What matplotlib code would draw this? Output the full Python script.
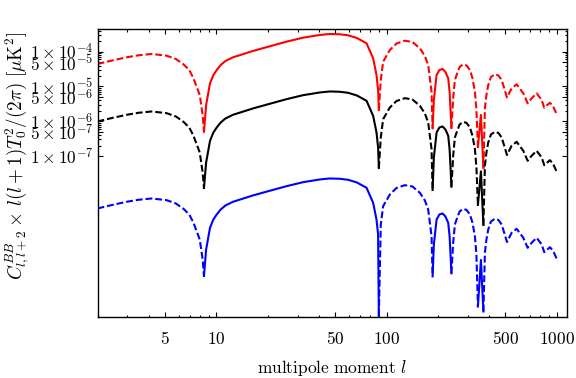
import numpy as np
import matplotlib
matplotlib.use("Agg")
import matplotlib.pyplot as plt
from matplotlib.ticker import FixedLocator, FixedFormatter, NullFormatter

plt.rcParams['mathtext.fontset'] = 'cm'
plt.rcParams['font.family'] = ['DejaVu Serif']

# multipole moments (shared sampling)
ell = [2.0, 2.45, 2.97, 3.49, 4.16, 5.10, 5.78, 6.40, 6.92, 7.32, 7.98, 8.30, 8.45,
       8.70, 9.17, 9.6, 10.04, 10.6, 11.3, 12.52, 13.71, 16.42, 20.58, 25.8, 32.3, 40.5, 46.4, 53.1,
       59.4, 66.9, 76.3, 83.4, 87.3, 89.2, 90.1,
       92.5, 95.5, 104.6, 114.5, 128.1, 141.9, 157.0, 168.0, 175.7, 183.9, 186.5,
       189.7, 196.9, 204.5, 213.5, 221.8, 230.4, 234.8, 238.0, 240.6,
       246.5, 252.2, 258.1, 268.8, 282.2, 295.6, 309.0, 319.7, 330.7, 337.5, 344.4,
       358.7, 371.0,
       378.6, 386.5, 396.0, 410.8, 433.6, 454.7, 474.9, 493.1, 510.2, 543.7, 581.8,
       636.3, 675.2, 712.7, 762.6, 816.1, 845.4, 913.0, 955.0, 1000.0]

# sign of the spectrum: +1 positive (solid), -1 negative (dashed), 0 zero crossing
sign = ([-1]*12 + [0] + [1]*21 + [0] + [-1]*10 + [0] + [1]*8 + [0] + [-1]*10 + [0]
        + [1] + [0] + [-1]*20)

# log10 |C| for the three series
red_log10 = [-4.353, -4.250, -4.161, -4.103, -4.066, -4.115, -4.210, -4.362, -4.526, -4.756, -5.244, -5.819, -6.299,
             -5.532, -4.908, -4.670, -4.526, -4.382, -4.267, -4.161, -4.100, -3.978, -3.845, -3.713, -3.598,
             -3.520, -3.491, -3.500, -3.529, -3.606, -3.759, -4.190, -4.670, -5.101, -5.675,
             -4.813, -4.287, -3.951, -3.764, -3.684, -3.721, -3.902, -4.124, -4.382, -5.149, -6.201,
             -5.388, -4.670, -4.526, -4.497, -4.583, -4.764, -5.158, -5.724, -6.193,
             -5.330, -4.813, -4.670, -4.440, -4.362, -4.397, -4.526, -4.756, -5.149, -5.675, -6.739,
             -5.819, -7.342,
             -5.618, -5.244, -4.957, -4.727, -4.649, -4.684, -4.813, -5.072, -5.316, -5.052, -4.937,
             -5.195, -5.483, -5.339, -5.195, -5.388, -5.609, -5.466, -5.580, -5.799]

black_log10 = [-6.005, -5.902, -5.813, -5.755, -5.718, -5.767, -5.862, -6.014, -6.178, -6.408, -6.896, -7.471, -7.917,
               -7.184, -6.560, -6.322, -6.178, -6.034, -5.919, -5.813, -5.752, -5.630, -5.497, -5.365, -5.250,
               -5.172, -5.143, -5.152, -5.181, -5.258, -5.411, -5.842, -6.322, -6.753, -7.342,
               -6.465, -5.939, -5.603, -5.416, -5.336, -5.373, -5.554, -5.776, -6.034, -6.801, -7.974,
               -7.040, -6.322, -6.178, -6.149, -6.235, -6.416, -6.810, -7.376, -7.879,
               -6.982, -6.465, -6.322, -6.092, -6.014, -6.049, -6.178, -6.408, -6.801, -7.327, -8.405,
               -7.440, -8.980,
               -7.270, -6.896, -6.609, -6.379, -6.301, -6.336, -6.465, -6.724, -6.968, -6.704, -6.589,
               -6.847, -7.135, -6.991, -6.847, -7.040, -7.261, -7.118, -7.232, -7.451]

blue_log10 = [-8.505, -8.402, -8.313, -8.255, -8.218, -8.267, -8.362, -8.514, -8.678, -8.908, -9.396, -9.971, -10.445,
              -9.684, -9.060, -8.822, -8.678, -8.534, -8.419, -8.313, -8.252, -8.130, -7.997, -7.865, -7.750,
              -7.672, -7.643, -7.652, -7.681, -7.758, -7.911, -8.342, -8.822, -9.253, -11.595,
              -8.965, -8.439, -8.103, -7.916, -7.836, -7.873, -8.054, -8.276, -8.534, -9.301, -10.457,
              -9.540, -8.822, -8.678, -8.649, -8.735, -8.916, -9.310, -9.876, -10.368,
              -9.482, -8.965, -8.822, -8.592, -8.514, -8.549, -8.678, -8.908, -9.301, -9.827, -11.322,
              -9.986, -11.466,
              -9.770, -9.396, -9.109, -8.879, -8.801, -8.836, -8.965, -9.224, -9.468, -9.204, -9.089,
              -9.347, -9.635, -9.491, -9.347, -9.540, -9.761, -9.618, -9.732, -9.951]

xtick_vals = [5, 10, 50, 100, 500, 1000]
xtick_labels = ["$5$", "$10$", "$50$", "$100$", "$500$", "$1000$"]
ytick_vals = [1e-4, 5e-5, 1e-5, 5e-6, 1e-6, 5e-7, 1e-7]
ytick_labels = [r"$1\times10^{-4}$", r"$5\times10^{-5}$", r"$1\times10^{-5}$", r"$5\times10^{-6}$",
                r"$1\times10^{-6}$", r"$5\times10^{-7}$", r"$1\times10^{-7}$"]

series = [(red_log10, 'red'), (black_log10, 'black'), (blue_log10, 'blue')]

fig = plt.figure(figsize=(5.76, 3.78), dpi=100)
ax = fig.add_axes([97.5/576, 1-317/378, (567-97.5)/576, (317-29)/378])

ell_a = np.array(ell)
n = min(len(ell), len(sign), *(len(s[0]) for s in series))
brk = [0] + [i for i, s in enumerate(sign[:n]) if s == 0] + [n - 1]
for logs, col in series:
    vals = 10.0 ** np.array(logs[:n])
    for a, b in zip(brk[:-1], brk[1:]):
        inner = [s for s in sign[a:b+1] if s != 0]
        if not inner:
            continue
        ls = '-' if inner[0] > 0 else (0, (3.3, 1.4))
        ax.plot(ell_a[a:b+1], vals[a:b+1], color=col, lw=1.5, linestyle=ls,
                dash_capstyle='butt', solid_joinstyle='round')

ax.set_xscale('log')
ax.set_yscale('log')
ax.set_xlim(2.0, 1150)
ax.set_ylim(10**-11.624, 10**-3.348)

xminor = [2, 3, 4, 6, 7, 8, 9, 20, 30, 40, 60, 70, 80, 90, 200, 300, 400, 600, 700, 800, 900]
ax.xaxis.set_major_locator(FixedLocator(xtick_vals))
ax.xaxis.set_major_formatter(FixedFormatter(xtick_labels))
ax.xaxis.set_minor_locator(FixedLocator(xminor))
ax.xaxis.set_minor_formatter(NullFormatter())

yminor = [k * 10.0**e for e in (-7, -6, -5, -4) for k in (2, 3, 4, 6, 7, 8, 9) if k * 10.0**e < 4.4e-4]
ax.yaxis.set_major_locator(FixedLocator(ytick_vals))
ax.yaxis.set_major_formatter(FixedFormatter(ytick_labels))
ax.yaxis.set_minor_locator(FixedLocator(yminor))
ax.yaxis.set_minor_formatter(NullFormatter())

ax.tick_params(which='both', direction='in', top=True, right=True, width=0.8)
ax.tick_params(which='major', length=3.6, labelsize=12.5)
ax.tick_params(which='minor', length=1.8)
ax.tick_params(axis='x', which='major', pad=10)
ax.tick_params(axis='y', which='major', pad=3)
for sp in ax.spines.values():
    sp.set_linewidth(1.0)

fig.text(332/576, 1-368/378, r"$\mathrm{multipole\ moment}\ l$", ha='center', va='center', fontsize=12.5)
fig.text(18/576, 1-156/378, r"$C^{BB}_{l,l+2}\times\,l(l+1)T_0^2/(2\pi)\ [\mu\mathrm{K}^2]$",
         ha='center', va='center', rotation=90, fontsize=13.7)

fig.savefig("out.png", dpi=100)
